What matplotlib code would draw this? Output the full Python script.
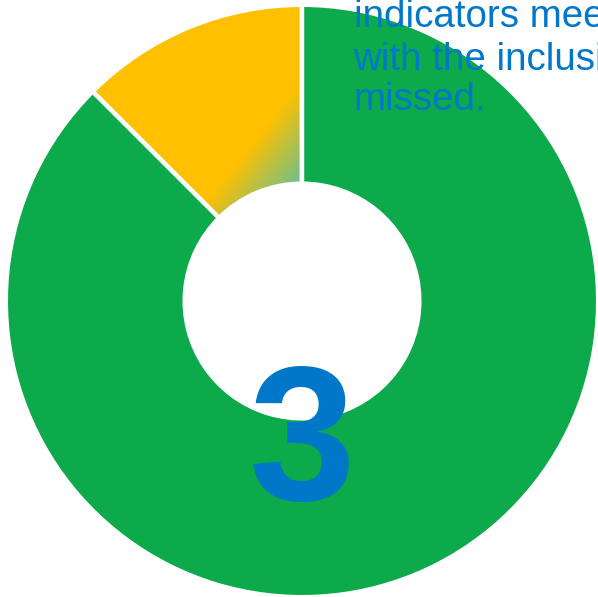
import numpy as np
import matplotlib
matplotlib.use("Agg")
import matplotlib.pyplot as plt
from matplotlib.colors import to_rgb


# data
shares		= [1, 7]			# yellow slice first, then the green remainder
slice_colors	= ["#ffc000", "#0caa4a"]
fade_color	= "#6cc08e"			# where the yellow slice fades towards the hole
note_lines	= ["indicators mee", "with the inclusi", "missed."]
big_number	= "3"
text_blue	= "#0077c8"

# figure laid out in pixel units, origin at the ring centre
W, H		= 598, 597
CX, CY		= 302, 301
R_OUT		= 296.2
R_IN		= 117.3

fig = plt.figure(figsize=(W/100, H/100), dpi=100)
ax = fig.add_axes([0, 0, 1, 1])

wedges, _ = ax.pie(shares, colors=slice_colors, startangle=90, counterclock=True,
		   radius=R_OUT, center=(0, 0),
		   wedgeprops=dict(width=R_OUT - R_IN, edgecolor="white", linewidth=3.2))

ax.set_xlim(-CX, W - CX)
ax.set_ylim(-(H - CY), CY)
ax.set_aspect("equal")
ax.axis("off")

# linear yellow -> teal fade on the small slice
yellow = wedges[0]
yellow.set_facecolor("none")
gx = np.linspace(-R_OUT, 0, 300)
gy = np.linspace(0, R_OUT, 300)
xx, yy = np.meshgrid(gx, gy)
u = ((xx + 2)*117 - (yy - 218)*93)/149.5
t = np.clip(u/62.0, 0, 1)[..., None]
c0 = np.array(to_rgb(slice_colors[0]))
c1 = np.array(to_rgb(fade_color))
grad = c0*(1 - t) + c1*t
img = ax.imshow(grad, extent=(gx[0], gx[-1], gy[0], gy[-1]), origin="lower",
		interpolation="bilinear", zorder=0.5)
img.set_clip_path(yellow)
ax.set_xlim(-CX, W - CX)
ax.set_ylim(-(H - CY), CY)

# note text, one baseline per line
baselines = [27, 70, 110]
for line, by in zip(note_lines, baselines):
	ax.text(353.5 - CX, CY - by, line, color=text_blue, fontsize=27.7,
		family="Liberation Sans", ha="left", va="baseline")

ax.text(301.5 - CX, CY - 500, big_number, color=text_blue, fontsize=138,
	family="Liberation Sans", fontweight="bold", ha="center", va="baseline")

fig.savefig("out.png", dpi=100, facecolor="white")
plt.close(fig)
